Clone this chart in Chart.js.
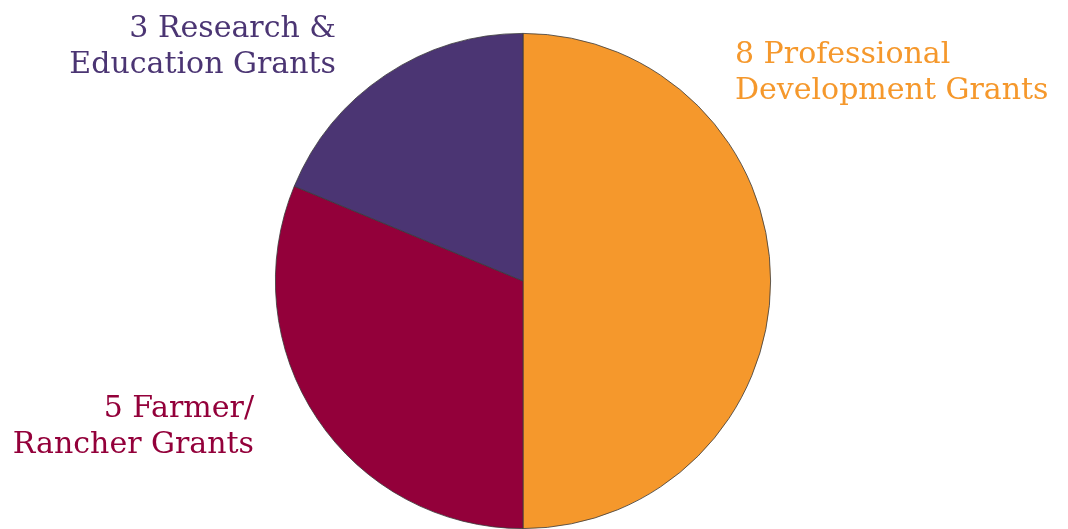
<!DOCTYPE html>
<html>
<head>
<meta charset="utf-8">
<script src="https://cdn.jsdelivr.net/npm/chart.js@4"></script>
<style>
  html, body { margin: 0; padding: 0; background: #fff; }
  #wrap { width: 1068px; height: 529px; position: relative; }
</style>
</head>
<body>
<div id="wrap"><canvas id="myChart"></canvas></div>
<script>
const categories = ['Professional Development Grants', 'Farmer/Rancher Grants', 'Research & Education Grants'];
const grantCounts = [8, 5, 3];
const sliceColors = ['#F5982C', '#93003A', '#4B3573'];
const labelLines = [
  ['8 Professional', 'Development Grants'],
  ['5 Farmer/', 'Rancher Grants'],
  ['3 Research &', 'Education Grants']
];

// where each label block sits: x anchor, first baseline, alignment
const labelSpots = [
  { x: 735, y: 63, align: 'left' },
  { x: 254, y: 417, align: 'right' },
  { x: 336, y: 37, align: 'right' }
];

const sliceLabels = {
  id: 'sliceLabels',
  afterDraw(chart) {
    const c = chart.ctx;
    c.save();
    c.font = '30px "DejaVu Serif"';
    c.textBaseline = 'alphabetic';
    labelLines.forEach((lines, i) => {
      const spot = labelSpots[i];
      c.fillStyle = sliceColors[i];
      c.textAlign = spot.align;
      lines.forEach((t, j) => c.fillText(t, spot.x, spot.y + j * 36));
    });
    c.restore();
  }
};

const ctx = document.getElementById('myChart');
const myChart = new Chart(ctx, {
  type: 'pie',
  data: {
    labels: categories,
    datasets: [{
      data: grantCounts,
      backgroundColor: sliceColors,
      borderColor: '#3a3a3a',
      borderWidth: 0.8
    }]
  },
  options: {
    responsive: true,
    maintainAspectRatio: false,
    animation: false,
    layout: { padding: { top: 33, bottom: 0, left: 0, right: 22 } },
    plugins: {
      legend: { display: false },
      tooltip: { enabled: false }
    }
  },
  plugins: [sliceLabels]
});
</script>
</body>
</html>
